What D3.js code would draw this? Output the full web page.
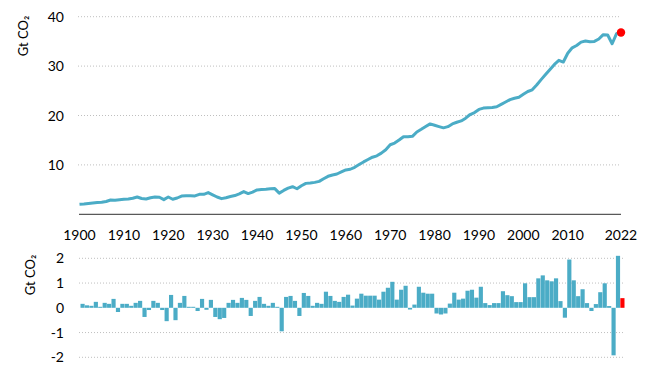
<!DOCTYPE html>
<html>
<head>
<meta charset="utf-8">
<script src="https://cdn.jsdelivr.net/npm/d3@7"></script>
<style>
  html, body { margin: 0; padding: 0; background: #fff; }
  svg { display: block; }
  text { font-family: Lato, "Open Sans", sans-serif; fill: #000; }
</style>
</head>
<body>
<svg id="chart" width="654" height="370"></svg>
<script>
// ---- Data ----
const years = d3.range(1900, 2023);

// Annual emissions (Gt CO2), 1900-2022
const emissions = [
  2.03, 2.10, 2.20, 2.30, 2.38, 2.45, 2.60, 2.90, 2.85, 2.95,
  3.05, 3.10, 3.25, 3.50, 3.20, 3.10, 3.35, 3.50, 3.45, 2.97,
  3.50, 3.04, 3.30, 3.70, 3.75, 3.75, 3.72, 4.05, 4.05, 4.40,
  3.95, 3.50, 3.17, 3.35, 3.60, 3.80, 4.15, 4.60, 4.20, 4.50,
  4.93, 5.00, 5.07, 5.17, 5.20, 4.29, 4.83, 5.30, 5.58, 5.17,
  5.78, 6.26, 6.33, 6.46, 6.67, 7.20, 7.69, 7.96, 8.16, 8.57,
  8.98, 9.12, 9.52, 10.07, 10.60, 11.09, 11.56, 11.84, 12.38, 13.06,
  14.08, 14.42, 15.03, 15.71, 15.71, 15.78, 16.67, 17.20, 17.76, 18.30,
  18.03, 17.76, 17.50, 17.74, 18.29, 18.63, 18.90, 19.45, 20.20, 20.60,
  21.23, 21.50, 21.58, 21.64, 21.78, 22.26, 22.74, 23.22, 23.50, 23.70,
  24.30, 24.86, 25.20, 26.16, 27.26, 28.29, 29.30, 30.34, 31.16, 30.82,
  32.60, 33.70, 34.18, 34.86, 35.07, 34.93, 35.00, 35.48, 36.37, 36.30,
  34.52, 36.58, 36.80
];

// Annual change (Gt CO2), 1900-2022
const change = [
  0.16, 0.10, 0.08, 0.24, 0.04, 0.20, 0.16, 0.36, -0.17, 0.16,
  0.16, 0.08, 0.20, 0.28, -0.37, -0.09, 0.28, 0.20, -0.09, -0.54,
  0.52, -0.50, 0.20, 0.48, 0.04, 0.04, -0.13, 0.36, -0.08, 0.32,
  -0.37, -0.46, -0.41, 0.20, 0.32, 0.20, 0.40, 0.32, -0.33, 0.28,
  0.44, 0.16, 0.08, 0.20, 0.04, -0.95, 0.44, 0.48, 0.28, -0.33,
  0.60, 0.48, 0.08, 0.20, 0.16, 0.65, 0.48, 0.28, 0.24, 0.44,
  0.53, 0.09, 0.37, 0.57, 0.49, 0.49, 0.49, 0.33, 0.65, 0.81,
  1.05, 0.33, 0.73, 0.89, -0.07, 0.13, 0.85, 0.61, 0.57, 0.57,
  -0.23, -0.27, -0.23, 0.17, 0.61, 0.33, 0.37, 0.69, 0.73, 0.41,
  0.85, 0.19, 0.11, 0.19, 0.19, 0.67, 0.51, 0.47, 0.23, 0.23,
  0.99, 0.43, 0.43, 1.19, 1.31, 1.11, 1.07, 1.19, 0.27, -0.40,
  1.95, 1.11, 0.47, 0.75, 0.19, -0.13, 0.15, 0.63, 0.99, 0.07,
  -1.92, 2.10, 0.39
];

const topTicks = [10, 20, 30, 40];
const bottomTicks = [2, 1, 0, -1, -2];
const bottomGrid = [2, 1, -1, -2];
const xTicks = [1900, 1910, 1920, 1930, 1940, 1950, 1960, 1970, 1980, 1990, 2000, 2010, 2022];

const lineColor = "#4BACC6";
const highlight = "#FF0000";
const gridColor = "#BFBFBF";

// ---- Scales ----
const svg = d3.select("#chart");
const x = d3.scaleLinear().domain([1900, 2022]).range([79.5, 621]);
const yTop = d3.scaleLinear().domain([0, 40]).range([214.3, 16.7]);
const yBot = d3.scaleLinear().domain([-2, 2]).range([357.3, 258.3]);
const xBand = d3.scaleBand().domain(years).range([80.5, 624.5]).paddingInner(0.06);

// ---- Top chart ----
const gTop = svg.append("g");
gTop.selectAll("line.grid").data(topTicks).join("line")
  .attr("class", "grid")
  .attr("x1", 78).attr("x2", 621)
  .attr("y1", d => yTop(d)).attr("y2", d => yTop(d))
  .attr("stroke", gridColor).attr("stroke-width", 1)
  .attr("stroke-dasharray", "1,2");

gTop.selectAll("text.ytick").data(topTicks).join("text")
  .attr("class", "ytick")
  .attr("x", 64).attr("y", d => yTop(d))
  .attr("text-anchor", "end").attr("dy", "0.36em")
  .attr("font-size", 14)
  .text(d => d);

// x axis line
gTop.append("line")
  .attr("x1", 79).attr("x2", 621)
  .attr("y1", 214.3).attr("y2", 214.3)
  .attr("stroke", "#595959").attr("stroke-width", 1.3);

gTop.selectAll("text.xtick").data(xTicks).join("text")
  .attr("class", "xtick")
  .attr("x", d => x(d)).attr("y", 240)
  .attr("text-anchor", "middle")
  .attr("font-size", 14)
  .text(d => d);

const line = d3.line()
  .x((d, i) => x(years[i]))
  .y(d => yTop(d));

gTop.append("path")
  .datum(emissions)
  .attr("d", line)
  .attr("fill", "none")
  .attr("stroke", lineColor)
  .attr("stroke-width", 3)
  .attr("stroke-linejoin", "round");

gTop.append("circle")
  .attr("cx", x(2022)).attr("cy", yTop(emissions[emissions.length - 1]))
  .attr("r", 4.2)
  .attr("fill", highlight);

gTop.append("text")
  .attr("transform", "translate(28,36) rotate(-90)")
  .attr("text-anchor", "middle")
  .attr("font-size", 13)
  .text("Gt CO₂");

// ---- Bottom chart ----
const gBot = svg.append("g");
gBot.selectAll("line.grid").data(bottomGrid).join("line")
  .attr("class", "grid")
  .attr("x1", 79).attr("x2", 623)
  .attr("y1", d => yBot(d)).attr("y2", d => yBot(d))
  .attr("stroke", gridColor).attr("stroke-width", 1)
  .attr("stroke-dasharray", "1,2");

gBot.selectAll("text.ytick").data(bottomTicks).join("text")
  .attr("class", "ytick")
  .attr("x", 64).attr("y", d => yBot(d))
  .attr("text-anchor", "end").attr("dy", "0.36em")
  .attr("font-size", 14)
  .text(d => d < 0 ? "-" + Math.abs(d) : d);

gBot.selectAll("rect.bar").data(change).join("rect")
  .attr("class", "bar")
  .attr("x", (d, i) => xBand(years[i]))
  .attr("width", xBand.bandwidth())
  .attr("y", d => yBot(Math.max(0, d)))
  .attr("height", d => Math.abs(yBot(d) - yBot(0)))
  .attr("fill", (d, i) => years[i] === 2022 ? highlight : lineColor);

gBot.append("text")
  .attr("transform", "translate(35,275) rotate(-90)")
  .attr("text-anchor", "middle")
  .attr("font-size", 13)
  .text("Gt CO₂");
</script>
</body>
</html>
